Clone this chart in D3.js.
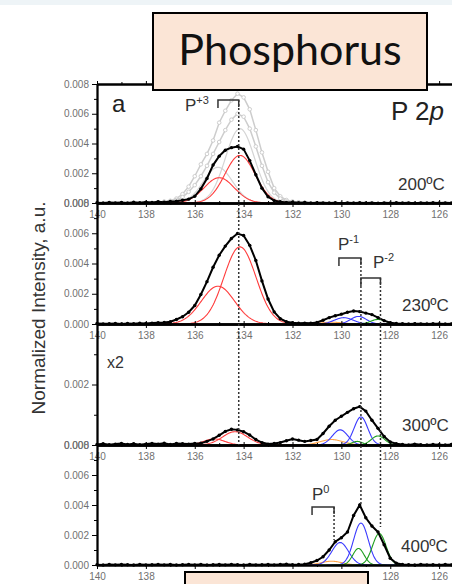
<!DOCTYPE html>
<html>
<head>
<meta charset="utf-8">
<script src="https://cdn.jsdelivr.net/npm/d3@7"></script>
<style>
body { margin: 0; background: #fff; overflow: hidden; }
text { font-family: "Liberation Sans", Arial, sans-serif; }
</style>
</head>
<body>
<div id="chart"></div>
<script>
// binding energy grid (eV), intensities in units of 0.001
let energy = [140,139.75,139.5,139.25,139,138.75,138.5,138.25,138,137.75,
  137.5,137.25,137,136.75,136.5,136.25,136,135.75,135.5,135.25,
  135,134.75,134.5,134.25,134,133.75,133.5,133.25,133,132.75,
  132.5,132.25,132,131.75,131.5,131.25,131,130.75,130.5,130.25,
  130,129.75,129.5,129.25,129,128.75,128.5,128.25,128,127.75,
  127.5,127.25,127,126.75,126.5,126.25,126,125.75,125.5,125.25,125];

let temps = ["200ºC", "230ºC", "300ºC", "400ºC"];

let data200 = [0.02,0.00,0.04,0.01,0.03,0.00,0.05,0.02,0.06,0.03,
  0.08,0.05,0.10,0.12,0.18,0.26,0.45,0.95,1.65,2.55,
  3.15,3.55,3.72,3.80,3.62,2.85,1.90,1.00,0.42,0.16,
  0.08,0.04,0.05,0.02,0.03,0.00,0.02,0.01,0.00,0.02,
  -0.01,0.01,0.00,0.02,0.00,0.01,-0.01,0.01,0.00,0.02,
  0.00,0.01,-0.01,0.01,0.00,0.02,0.00,0.01,0.00,0.01,0.00];
let data230 = [0.03,0.01,0.02,0.04,0.00,0.03,0.02,0.05,0.03,0.06,
  0.08,0.10,0.15,0.30,0.48,0.78,1.22,1.95,2.80,3.75,
  4.55,5.15,5.65,5.98,5.85,5.20,4.20,2.85,1.65,0.80,
  0.35,0.15,0.08,0.05,0.06,0.05,0.10,0.25,0.42,0.55,
  0.65,0.78,0.86,0.82,0.72,0.62,0.42,0.22,0.08,0.03,
  0.02,0.00,0.02,0.01,0.00,0.02,0.01,0.00,0.01,0.02,0.00];
let data300 = [0.02,0.04,0.01,0.03,0.05,0.02,0.04,0.01,0.03,0.05,
  0.03,0.06,0.02,0.05,0.04,0.03,0.05,0.06,0.12,0.20,
  0.32,0.45,0.52,0.50,0.44,0.33,0.18,0.08,0.03,0.05,
  0.08,0.14,0.20,0.16,0.12,0.15,0.18,0.38,0.62,0.82,
  0.95,1.08,1.20,1.27,1.12,0.82,0.55,0.28,0.10,0.04,
  0.02,0.00,0.03,0.01,0.00,0.02,0.01,0.00,0.02,0.01,0.00];
let data400 = [0.02,0.00,0.03,0.01,0.04,0.02,0.00,0.03,0.01,0.02,
  0.04,0.01,0.03,0.00,0.02,0.04,0.01,0.03,0.00,0.02,
  0.03,0.01,0.04,0.02,0.00,0.03,0.01,0.02,0.04,0.01,
  0.03,0.05,0.02,0.03,0.05,0.15,0.30,0.55,1.00,1.55,
  1.82,2.20,3.30,4.00,3.15,2.60,2.20,1.35,0.45,0.12,
  0.04,0.02,0.00,0.03,0.01,0.02,0.00,0.03,0.01,0.00,0.02];

// other scans shown in grey in the 200C panel
let grayEnergy = [137.5,137.25,137,136.75,136.5,136.25,136,135.75,135.5,135.25,
  135,134.75,134.5,134.25,134,133.75,133.5,133.25,133,132.75,
  132.5,132.25,132,131.75,131.5];
let grayA = [0.05,0.10,0.15,0.30,0.60,1.10,1.80,2.60,3.30,4.20,
  5.40,6.20,6.90,7.35,7.10,6.30,4.90,3.40,2.10,1.00,
  0.45,0.20,0.10,0.05,0.02];
let grayB = [0.03,0.06,0.10,0.20,0.40,0.75,1.20,1.80,2.50,3.30,
  4.10,4.90,5.60,6.00,5.80,5.00,3.80,2.50,1.40,0.70,
  0.30,0.10,0.05,0.03,0.01];

// fitted components: centre (eV), height (x0.001), fwhm (eV), state
let grayFit200 = [[134.15, 5.0, 1.4, "g"], [135.05, 2.4, 1.4, "g"]];
let fit200 = [[134.15, 3.2, 1.45, "P3"], [135.0, 1.7, 1.45, "P3"]];
let fit230 = [[134.15, 5.1, 1.55, "P3"], [135.05, 2.5, 1.6, "P3"], [130.4, 0.12, 1.0, "P0"],
  [129.9, 0.42, 0.9, "P1"], [129.3, 0.5, 0.75, "P1"], [128.5, 0.3, 0.7, "P2"]];
let fit300 = [[134.35, 0.44, 1.2, "P3"], [135.2, 0.2, 1.0, "P3"], [130.4, 0.18, 1.1, "P0"],
  [130.05, 0.5, 0.75, "P1"], [129.2, 0.93, 0.65, "P1"], [129.35, 0.12, 0.5, "P2"], [128.5, 0.3, 0.65, "P2"]];
let fit400 = [[130.4, 0.25, 1.0, "P0"], [130.05, 1.5, 0.8, "P1"], [129.2, 2.8, 0.7, "P1"],
  [129.3, 1.1, 0.55, "P2"], [128.45, 2.1, 0.65, "P2"]];
let baselines = [null, null, [136.2, 127.6], [131.6, 127.8]];

let xMajor = [140, 138, 136, 134, 132, 130, 128, 126];
let xMinor = [139, 137, 135, 133, 131, 129, 127, 125];

let colors = { P3: "#ff3c3c", P1: "#3a3aff", P2: "#1f9e1f", P0: "#ffa54a", g: "#d4d4d4" };

let width = 452, height = 584;
let svg = d3.select("#chart").append("svg")
  .attr("width", width).attr("height", height);

svg.append("rect").attr("width", width).attr("height", 5).attr("fill", "#eef4f7");

let x = d3.scaleLinear().domain([140, 124]).range([97, 488]);

// panel frames: top, bottom, y max
let panels = [
  { top: 84, bottom: 203, ymax: 8, ticks: [0, 2, 4, 6, 8], data: data200, fit: fit200 },
  { top: 203, bottom: 324, ymax: 8, ticks: [0, 2, 4, 6, 8], data: data230, fit: fit230 },
  { top: 324, bottom: 445, ymax: 4, ticks: [0, 2], data: data300, fit: fit300 },
  { top: 445, bottom: 565, ymax: 8, ticks: [0, 2, 4, 6, 8], data: data400, fit: fit400 }
];

function gauss(p, e) {
  let d = (e - p[0]) / p[2];
  return p[1] * Math.exp(-4 * Math.LN2 * d * d);
}

function fitCurve(p) {
  let pts = [];
  for (let e = p[0] + 2 * p[2]; e >= p[0] - 2 * p[2]; e -= 0.04) pts.push([e, gauss(p, e)]);
  return pts;
}

panels.forEach((p, i) => {
  let y = d3.scaleLinear().domain([0, p.ymax]).range([p.bottom, p.top]);
  let g = svg.append("g");
  let line = d3.line().x(d => x(d[0])).y(d => y(d[1]));

  if (i == 0) {
    grayFit200.forEach(c => {
      g.append("path").attr("d", line(fitCurve(c))).attr("fill", "none")
        .attr("stroke", colors.g).attr("stroke-width", 1.2);
    });
    [grayA, grayB].forEach(s => {
      let pts = grayEnergy.map((e, k) => [e, s[k]]);
      g.append("path").attr("d", line(pts)).attr("fill", "none")
        .attr("stroke", "#cdcdcd").attr("stroke-width", 1.5);
      g.selectAll(null).data(pts).enter().append("circle")
        .attr("cx", d => x(d[0])).attr("cy", d => y(d[1])).attr("r", 1.8)
        .attr("fill", "#fff").attr("stroke", "#c8c8c8").attr("stroke-width", 0.9);
    });
  }

  if (baselines[i]) {
    g.append("line").attr("x1", x(baselines[i][0])).attr("x2", x(baselines[i][1]))
      .attr("y1", y(0)).attr("y2", y(0)).attr("stroke", colors.P2).attr("stroke-width", 1.2);
  }

  p.fit.forEach(c => {
    g.append("path").attr("d", line(fitCurve(c))).attr("fill", "none")
      .attr("stroke", colors[c[3]]).attr("stroke-width", 1.1);
  });

  let pts = energy.map((e, k) => [e, p.data[k]]);
  g.append("path").attr("d", line(pts)).attr("fill", "none")
    .attr("stroke", "#000").attr("stroke-width", 2);
  g.selectAll(null).data(pts).enter().append("circle")
    .attr("cx", d => x(d[0])).attr("cy", d => y(d[1])).attr("r", 1.7).attr("fill", "#000");

  // axes
  g.append("g").attr("transform", "translate(97,0)")
    .call(d3.axisLeft(y).tickValues(p.ticks).tickFormat(d => (d / 1000).toFixed(3))
      .tickSize(5).tickSizeOuter(0).tickPadding(3));
  g.append("g").attr("transform", "translate(97,0)")
    .call(d3.axisLeft(y).tickValues(d3.range(1, p.ymax, 2)).tickFormat("").tickSize(3).tickSizeOuter(0));
  g.append("g").attr("transform", "translate(0," + p.bottom + ")")
    .call(d3.axisBottom(x).tickValues(xMajor).tickFormat(d3.format("d"))
      .tickSize(4).tickSizeOuter(0).tickPadding(4));
  g.append("g").attr("transform", "translate(0," + p.bottom + ")")
    .call(d3.axisBottom(x).tickValues(xMinor).tickFormat("").tickSize(2).tickSizeOuter(0));
  g.append("g").attr("transform", "translate(0," + p.top + ")")
    .call(d3.axisTop(x).tickValues(xMajor).tickFormat("").tickSize(3).tickSizeOuter(0));
  g.append("g").attr("transform", "translate(0," + p.top + ")")
    .call(d3.axisTop(x).tickValues(xMinor).tickFormat("").tickSize(2).tickSizeOuter(0));

  g.append("text").attr("x", [398, 402, 402, 401][i])
    .attr("y", [190, 311, 431, 552][i])
    .attr("font-size", 17).attr("fill", "#333").text(temps[i]);
});

svg.selectAll(".domain").attr("stroke", "#000").attr("stroke-width", 1.8);
svg.selectAll(".tick line").attr("stroke", "#000").attr("stroke-width", 1);
svg.selectAll(".tick text").attr("font-size", 10).attr("fill", "#707070")
  .style("font-family", "'Liberation Sans', Arial, sans-serif");

// guide lines and brackets
let guides = [[134.2, 100, 445], [129.2, 258, 505], [128.4, 278, 527], [130.3, 507, 540]];
guides.forEach(d => {
  svg.append("line").attr("x1", x(d[0])).attr("x2", x(d[0])).attr("y1", d[1]).attr("y2", d[2])
    .attr("stroke", "#333").attr("stroke-width", 1.5).attr("stroke-dasharray", "2,2");
});
let brackets = [[135.05, 134.2, 100, "+3", 185, 111], [130.1, 129.2, 258, "-1", 338, 250],
  [129.2, 128.4, 278, "-2", 373, 268], [131.2, 130.3, 507, "0", 312, 500]];
brackets.forEach(b => {
  svg.append("path")
    .attr("d", "M" + x(b[0]) + "," + (b[2] + 8) + "V" + b[2] + "H" + x(b[1]) + "V" + (b[2] + 7))
    .attr("fill", "none").attr("stroke", "#333").attr("stroke-width", 1.5);
  let t = svg.append("text").attr("x", b[4]).attr("y", b[5]).attr("font-size", 17).attr("fill", "#333");
  t.append("tspan").text("P");
  t.append("tspan").attr("dy", -7).attr("font-size", 11).text(b[3]);
});

svg.append("text").attr("x", 112).attr("y", 112).attr("font-size", 24).attr("fill", "#222").text("a");
let pt = svg.append("text").attr("x", 391).attr("y", 120).attr("font-size", 26).attr("fill", "#222");
pt.append("tspan").text("P 2");
pt.append("tspan").attr("font-style", "italic").text("p");
svg.append("text").attr("x", 107).attr("y", 368).attr("font-size", 16).attr("fill", "#333").text("x2");

svg.append("text").attr("transform", "translate(45,308) rotate(-90)")
  .attr("text-anchor", "middle").attr("font-size", 19).attr("fill", "#333")
  .text("Normalized Intensity, a.u.");

// title boxes
svg.append("rect").attr("x", 153).attr("y", 13).attr("width", 274).attr("height", 77)
  .attr("fill", "#fbe5d6").attr("stroke", "#000").attr("stroke-width", 2);
svg.append("text").attr("x", 290).attr("y", 65).attr("text-anchor", "middle")
  .attr("font-size", 43).attr("fill", "#111").style("font-family", "Lato, 'Open Sans', sans-serif")
  .text("Phosphorus");
svg.append("rect").attr("x", 185).attr("y", 572).attr("width", 183).attr("height", 30)
  .attr("fill", "#fbe5d6").attr("stroke", "#000").attr("stroke-width", 2);
</script>
</body>
</html>
